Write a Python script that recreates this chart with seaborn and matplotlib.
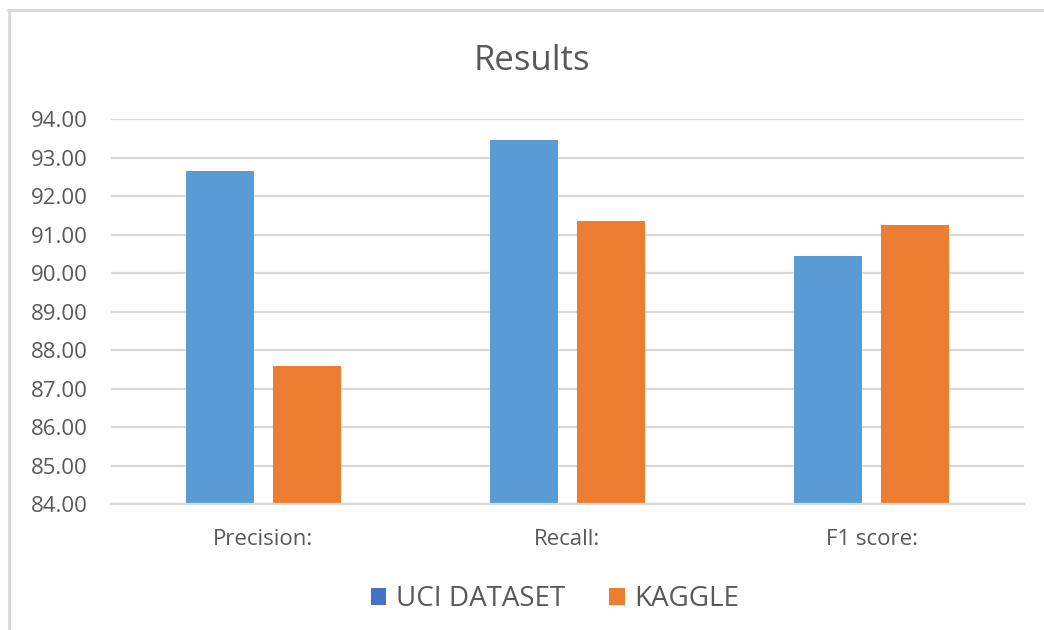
import matplotlib
matplotlib.use("Agg")
import matplotlib.pyplot as plt
from matplotlib.lines import Line2D
from matplotlib.patches import Patch
import seaborn as sns
import pandas as pd

# Scores per metric for each dataset
metrics = ["Precision:", "Recall:", "F1 score:"]
series = ["UCI DATASET", "KAGGLE"]
uci_scores = [92.67, 93.46, 90.46]
kaggle_scores = [87.58, 91.37, 91.26]
y_ticks = [84, 85, 86, 87, 88, 89, 90, 91, 92, 93, 94]

bar_colors = ["#5B9BD5", "#ED7D31"]
legend_colors = ["#4472C4", "#ED7D31"]

df = pd.DataFrame({
    "metric": metrics * 2,
    "dataset": [series[0]] * 3 + [series[1]] * 3,
    "score": uci_scores + kaggle_scores,
})

sns.set_theme(style="white")
plt.rcParams["font.family"] = ["Open Sans", "DejaVu Sans"]

W, H = 1044, 630
fig = plt.figure(figsize=(W / 100, H / 100), dpi=100)
ax = fig.add_axes([111 / W, 1 - 504.3 / H, 913 / W, (504.3 - 119.3) / H])

sns.barplot(data=df, x="metric", y="score", hue="dataset", order=metrics,
            hue_order=series, palette=bar_colors, saturation=1,
            width=0.572, gap=0.217, ax=ax, legend=False)

# Bars start from the axis floor at 84
for p in ax.patches:
    top = p.get_height() + p.get_y()
    p.set_y(84)
    p.set_height(top - 84)
    p.set_linewidth(0)

ax.set_ylim(84, 94)
ax.set_xlim(-0.5, 2.5)
ax.set_yticks(y_ticks)
ax.set_yticklabels([f"{v:.2f}" for v in y_ticks])
ax.yaxis.grid(True, color="#D9D9D9", linewidth=1.6)
ax.set_axisbelow(True)
for s in ["top", "right", "left"]:
    ax.spines[s].set_visible(False)
ax.spines["bottom"].set_color("#D9D9D9")
ax.spines["bottom"].set_linewidth(1.6)
ax.tick_params(axis="y", length=0, pad=17, labelsize=16, labelcolor="#595959")
ax.tick_params(axis="x", length=0, pad=18, labelsize=16, labelcolor="#595959")
ax.set_xlabel("")
ax.set_ylabel("")

fig.text(532 / W, 1 - 61 / H, "Results", ha="center", va="center",
         fontsize=25, color="#595959")

handles = [Patch(facecolor=c, edgecolor="none") for c in legend_colors]
fig.legend(handles, series, loc="center", bbox_to_anchor=(555 / W, 1 - 599 / H),
           ncol=2, frameon=False, fontsize=20, labelcolor="#595959",
           handlelength=0.55, handleheight=0.55, handletextpad=0.35,
           columnspacing=1.6)

# Light frame along the top and left edges
fig.add_artist(Line2D([8 / W, 1], [1 - 10 / H, 1 - 10 / H], color="#D9D9D9",
                      linewidth=2.2, transform=fig.transFigure))
fig.add_artist(Line2D([9 / W, 9 / W], [0, 1 - 10 / H], color="#D9D9D9",
                      linewidth=2.2, transform=fig.transFigure))

fig.savefig("out.png", dpi=100, facecolor="white")
